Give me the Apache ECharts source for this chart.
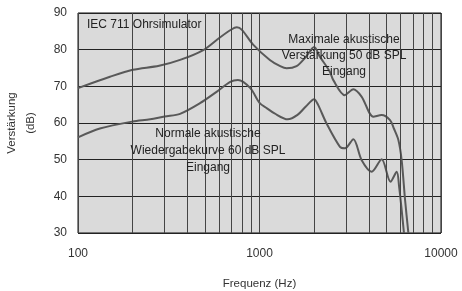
<!DOCTYPE html>
<html>
<head>
<meta charset="utf-8">
<script src="https://cdn.jsdelivr.net/npm/echarts@6/dist/echarts.min.js"></script>
<style>
  html, body { margin: 0; padding: 0; background: #fff; }
  #chart { width: 462px; height: 291px; }
</style>
</head>
<body>
<div id="chart"></div>
<script>
// Maximale akustische Verstärkung, 50 dB SPL Eingang  [Hz, dB]
const maxGain = [
  [100, 69.5], [150, 72.6], [200, 74.5], [280, 75.6], [365, 77.2], [490, 79.9],
  [600, 83.2], [700, 85.5], [750, 86.1], [800, 85.4], [925, 81.3], [1140, 77.2],
  [1300, 75.5], [1410, 74.9], [1600, 75.5], [1800, 78.0], [2000, 80.7], [2150, 78.1],
  [2440, 74.0], [2550, 71.7], [2950, 67.6], [3290, 69.2], [3650, 67.2], [4240, 61.7],
  [4710, 62.2], [5240, 60.8], [5500, 58.5], [5820, 55.4], [6070, 49.9], [6340, 39.0],
  [6610, 30.0]
]
// Normale akustische Wiedergabekurve, 60 dB SPL Eingang  [Hz, dB]
const normGain = [
  [100, 56.1], [132, 58.5], [200, 60.4], [250, 61.0], [300, 61.8], [365, 62.5],
  [470, 65.4], [580, 68.5], [690, 71.2], [760, 71.7], [890, 69.5], [1000, 65.5],
  [1100, 64.0], [1210, 62.6], [1430, 61.0], [1620, 62.2], [1800, 64.5], [2000, 66.5],
  [2100, 65.0], [2340, 59.9], [2775, 53.5], [2960, 53.1], [3290, 55.6], [3650, 49.9],
  [4150, 46.7], [4710, 50.1], [5270, 44.0], [5700, 46.7], [5880, 42.6], [6070, 36.3],
  [6250, 30.0]
]
// Zwischenlinien des logarithmischen Rasters
const minorFreqs = [200, 300, 400, 500, 600, 700, 800, 900, 2000, 3000, 4000, 5000, 6000, 7000, 8000, 9000]

const font = 'Liberation Sans, Arial, sans-serif'
const chart = echarts.init(document.getElementById('chart'))

const option = {
  animation: false,
  grid: {
    left: 78,
    right: 21,
    top: 13,
    bottom: 58,
    containLabel: false,
    outerBoundsMode: 'none',
    show: true,
    backgroundColor: '#dadada',
    borderColor: '#111',
    borderWidth: 1
  },
  xAxis: {
    type: 'log',
    logBase: 10,
    min: 100,
    max: 10000,
    name: 'Frequenz (Hz)',
    nameLocation: 'middle',
    nameGap: 45,
    nameTextStyle: { fontFamily: font, fontSize: 11.5, color: '#333' },
    axisLine: { show: false },
    axisTick: { show: false },
    axisLabel: {
      fontFamily: font, fontSize: 12, color: '#333', margin: 15,
      formatter: v => String(Math.round(v))
    },
    splitLine: { show: true, lineStyle: { color: '#444', width: 1 } }
  },
  yAxis: {
    type: 'value',
    min: 30,
    max: 90,
    interval: 10,
    name: 'Verstärkung\n(dB)',
    nameLocation: 'middle',
    nameGap: 38,
    nameTextStyle: { fontFamily: font, fontSize: 11.5, color: '#333', lineHeight: 19 },
    axisLine: { show: false },
    axisTick: { show: false },
    axisLabel: { fontFamily: font, fontSize: 12, color: '#333', margin: 11 },
    splitLine: { show: true, lineStyle: { color: '#222', width: 1 } }
  },
  series: [
    {
      type: 'line',
      data: maxGain,
      smooth: 0.3,
      symbol: 'none',
      clip: true,
      lineStyle: { color: '#595959', width: 2 },
      markLine: {
        silent: true,
        symbol: 'none',
        label: { show: false },
        lineStyle: { color: '#444', width: 1, type: 'solid' },
        data: minorFreqs.map(f => ({ xAxis: f }))
      },
      z: 3
    },
    {
      type: 'line',
      data: normGain,
      smooth: 0.3,
      symbol: 'none',
      clip: true,
      lineStyle: { color: '#595959', width: 2 },
      z: 3
    }
  ],
  graphic: [
    {
      type: 'text',
      left: 87,
      top: 19,
      z: 10,
      style: { text: 'IEC 711 Ohrsimulator', font: '12px ' + font, fill: '#222' }
    },
    {
      type: 'text',
      x: 344,
      y: 56,
      z: 10,
      style: {
        text: 'Maximale akustische\nVerstärkung 50 dB SPL\nEingang',
        font: '12px ' + font,
        fill: '#222',
        align: 'center',
        verticalAlign: 'middle',
        lineHeight: 16
      }
    },
    {
      type: 'text',
      x: 208,
      y: 151,
      z: 10,
      style: {
        text: 'Normale akustische\nWiedergabekurve 60 dB SPL\nEingang',
        font: '12px ' + font,
        fill: '#222',
        align: 'center',
        verticalAlign: 'middle',
        lineHeight: 17
      }
    }
  ]
}

chart.setOption(option)
</script>
</body>
</html>
